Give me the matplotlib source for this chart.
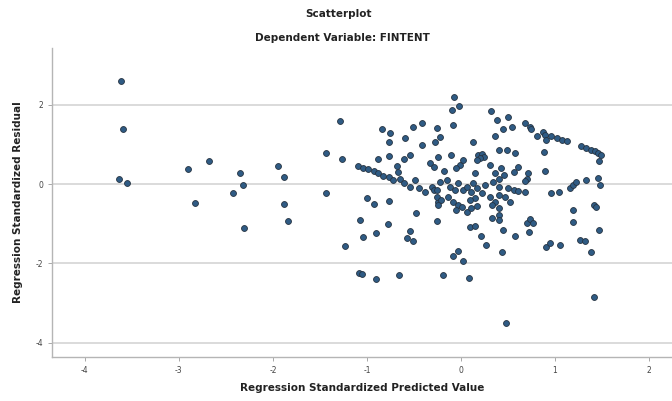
import matplotlib
matplotlib.use("Agg")
import matplotlib.pyplot as plt

title_main = "Scatterplot"
title_sub = "Dependent Variable: FINTENT"
x_label = "Regression Standardized Predicted Value"
y_label = "Regression Standardized Residual"
x_ticks = [-4, -3, -2, -1, 0, 1, 2]
y_ticks = [-4, -2, 0, 2]

pred = [
    -3.62, -3.59, -3.64, -3.55, -2.90, -2.68, -2.83, -2.35, -2.32, -2.43, -2.31, -1.95, -1.88, -1.88, -1.84,
    -1.29, -1.44, -1.44, -1.27, -1.23, -1.07, -1.04, -0.90, -0.78, -1.00, -0.93, -0.76, -1.08, -1.05, -0.90,
    -0.66, -0.84, -0.75, -0.76, -0.88, -0.76, -0.59, -0.61, -0.54, -0.51, -0.41, -0.41, -0.57, -0.54, -0.51,
    -0.48, -0.68, -0.67,
    -1.09, -1.04, -0.99, -0.93, -0.88, -0.83, -0.77, -0.72, -0.65, -0.61, -0.54, -0.49, -0.45, -0.38, -0.31,
    -0.29, -0.24, -0.26, -0.21, -0.24, -0.26, -0.18, -0.15, -0.12, -0.14, -0.22, -0.03, -0.08, -0.03, 0.01,
    -0.05, 0.06, 0.11, 0.17, -0.06, 0.02, 0.11, 0.15, 0.22, 0.31, 0.36, 0.41, 0.06, 0.13, 0.17, 0.26, 0.34,
    0.40, 0.10,
    -0.07, -0.02, -0.10, -0.08, -0.26, -0.22, -0.28, 0.13, 0.32, 0.38, 0.45, 0.36, 0.40, 0.49, -0.24, -0.11,
    -0.33, -0.29, -0.01, 0.02, -0.05, 0.18, 0.22, 0.25, 0.20, 0.17, 0.31, 0.36, 0.43, 0.46, 0.41, 0.15,
    -0.25, -0.19, 0.09, -0.03, -0.08, 0.02, 0.10, 0.15, 0.21, 0.27, 0.45, 0.44, 0.33, 0.40, 0.41, 0.48,
    0.33, 0.41,
    0.50, 0.54, 0.68, 0.73, 0.75, 0.87, 0.89, 0.81, 0.90, 0.96, 1.02, 1.07, 1.13, 1.28, 1.33, 1.38, 1.43,
    1.46, 1.49, 1.47, 0.57, 0.88, 0.61, 0.56, 0.71, 0.70, 0.68, 0.89, 0.50, 0.56, 0.68, 0.61, 0.96, 1.04,
    1.16, 1.19, 1.22, 1.33, 1.46, 1.48, 0.47, 0.52, 0.57, 0.70, 0.73, 0.77, 0.72, 1.19, 1.19, 1.41, 1.44,
    1.47, 0.91, 0.95, 1.05, 1.27, 1.32, 1.38, 1.41,
]

resid = [
    2.60, 1.40, 0.12, 0.03, 0.38, 0.59, -0.47, 0.27, -0.03, -0.22, -1.11, 0.45, 0.17, -0.50, -0.94,
    1.60, 0.78, -0.23, 0.62, -1.55, -0.91, -1.33, -1.24, -1.01, -0.36, -0.50, -0.42, -2.23, -2.27, -2.40,
    -2.30, 1.38, 1.29, 1.07, 0.64, 0.71, 1.15, 0.62, 0.73, 1.44, 1.54, 0.98, -1.37, -1.18, -1.43,
    -0.74, 0.45, 0.31,
    0.45, 0.41, 0.37, 0.33, 0.27, 0.21, 0.17, 0.11, 0.14, 0.02, -0.07, 0.10, -0.11, -0.19, -0.07,
    -0.15, -0.45, -0.32, -0.40, -0.53, -0.15, 0.34, 0.10, -0.08, -0.32, 0.06, 0.02, -0.45, -0.53, -0.57,
    -0.65, -0.71, -0.61, -0.55, -0.15, -0.15, -0.19, -0.36, -0.23, -0.32, -0.45, -0.28, -0.07, 0.02, -0.11, -0.03, 0.06,
    -0.07, -0.40,
    2.20, 1.96, 1.86, 1.49, 1.42, 1.19, 1.05, 1.05, 1.84, 1.61, 1.38, 1.22, 0.86, 0.87, 0.69, 0.73,
    0.52, 0.44, 0.48, 0.60, 0.40, 0.73, 0.77, 0.69, 0.65, 0.60, 0.48, 0.29, 0.40, 0.23, 0.14, 0.27,
    -0.94, -2.29, -2.38, -1.68, -1.81, -1.93, -1.08, -1.05, -1.31, -1.54, -1.15, -1.71, -0.86, -0.78, -0.91, -3.51,
    -0.53, -0.61,
    1.68, 1.44, 1.54, 1.44, 1.39, 1.32, 1.23, 1.20, 1.11, 1.21, 1.15, 1.11, 1.08, 0.96, 0.91, 0.86, 0.83,
    0.78, 0.73, 0.59, 0.79, 0.81, 0.42, 0.30, 0.29, 0.14, 0.08, 0.34, -0.11, -0.15, -0.19, -0.18, -0.23, -0.19,
    -0.11, -0.03, 0.04, 0.10, 0.16, -0.02, -0.32, -0.45, -1.31, -0.99, -0.89, -0.99, -1.20, -0.65, -0.95, -0.53, -0.57,
    -1.16, -1.58, -1.49, -1.54, -1.41, -1.43, -1.71, -2.84,
]

fig = plt.figure(figsize=(6.72, 4.01), dpi=100)
ax = fig.add_axes([52 / 672, 1 - 357 / 401, 620 / 672, 309 / 401])

ax.scatter(pred, resid, s=18, facecolor="#2f5b84", edgecolor="#263341",
           linewidths=0.6, zorder=3)

ax.set_xlim(-4.35, 2.245)
ax.set_ylim(-4.36, 3.43)
ax.set_xticks(x_ticks)
ax.set_yticks(y_ticks)
ax.set_xticklabels([str(t) for t in x_ticks])
ax.set_yticklabels([str(t) for t in y_ticks])
ax.tick_params(axis="both", labelsize=5.5, colors="#9a9a9a", labelcolor="#444444",
               length=3, width=0.6)
ax.yaxis.grid(True, color="#d8d8d8", linewidth=1.3, zorder=0)
ax.xaxis.grid(False)
ax.set_axisbelow(True)
for s in ["top", "right"]:
    ax.spines[s].set_visible(False)
for s in ["left", "bottom"]:
    ax.spines[s].set_color("#b5b5b5")
    ax.spines[s].set_linewidth(1.0)

ax.set_xlabel(x_label, fontsize=7.5, fontweight="bold", color="#222222", labelpad=6)
ax.set_ylabel(y_label, fontsize=7.5, fontweight="bold", color="#222222", labelpad=9)

fig.text(338 / 672, 1 - 14 / 401, title_main, ha="center", va="center",
         fontsize=7.5, fontweight="bold", color="#222222")
fig.text(342 / 672, 1 - 38 / 401, title_sub, ha="center", va="center",
         fontsize=7.5, fontweight="bold", color="#222222")

fig.savefig("out.png", dpi=100)
